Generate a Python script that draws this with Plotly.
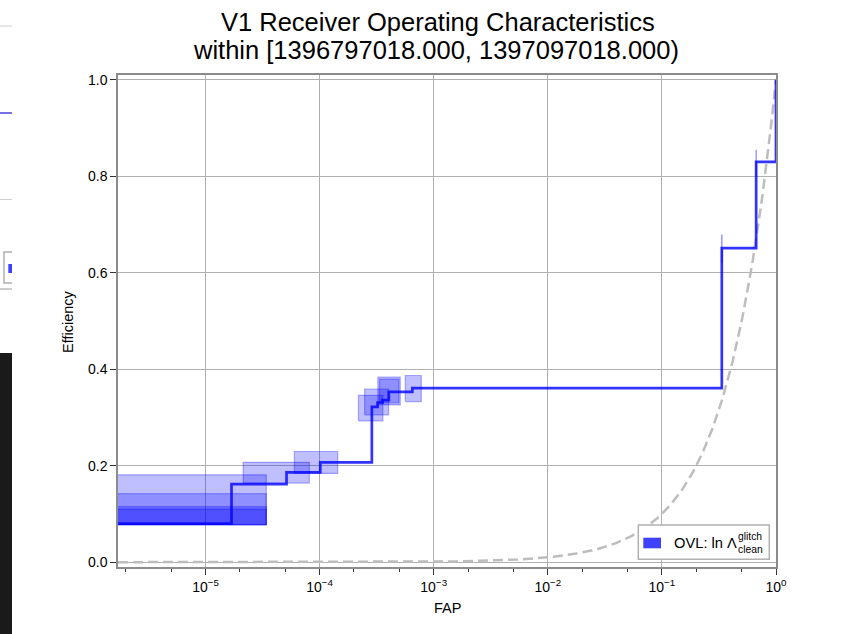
import numpy as np
import plotly.graph_objects as go

# ROC step curve (false alarm probability vs. efficiency)
roc_fap = [1.0e-6, 1.69e-5, 5.13e-5, 1.014e-4, 2.87e-4, 3.22e-4, 3.56e-4, 4.04e-4, 6.5e-4, 0.335, 0.670, 1.0]
roc_eff = [0.080, 0.162, 0.186, 0.207, 0.322, 0.331, 0.336, 0.353, 0.361, 0.651, 0.830, 1.0]

# Uncertainty boxes around ROC points
box_fap_lo = [1.0e-6, 1.0e-6, 1.0e-6, 1.0e-6, 2.14e-5, 6.01e-5, 2.19e-4, 2.48e-4, 3.24e-4, 3.35e-4, 5.64e-4, 0.333, 0.667]
box_fap_hi = [3.41e-5, 3.41e-5, 3.41e-5, 3.41e-5, 8.13e-5, 1.44e-4, 3.58e-4, 4.02e-4, 5.09e-4, 4.95e-4, 7.78e-4, 0.337, 0.673]
box_eff_lo = [0.078, 0.078, 0.078, 0.078, 0.164, 0.184, 0.293, 0.3055, 0.326, 0.330, 0.333, 0.620, 0.800]
box_eff_hi = [0.181, 0.142, 0.115, 0.110, 0.207, 0.2295, 0.346, 0.359, 0.3836, 0.3795, 0.387, 0.678, 0.854]

# Axis ticks
x_tickvals = [1e-5, 1e-4, 1e-3, 1e-2, 1e-1, 1e0]
x_ticktext = ["10<sup>\u22125</sup>", "10<sup>\u22124</sup>", "10<sup>\u22123</sup>",
              "10<sup>\u22122</sup>", "10<sup>\u22121</sup>", "10<sup>0</sup>"]
y_tickvals = [0.0, 0.2, 0.4, 0.6, 0.8, 1.0]

title_line1 = "V1 Receiver Operating Characteristics"
title_line2 = "within [1396797018.000, 1397097018.000)"
legend_main = "OVL: ln \u039b"
legend_sup = "glitch"
legend_sub = "clean"

FONT = "Liberation Sans, Arial, Helvetica, sans-serif"
BLUE_LINE = "rgba(0,0,255,0.8)"
BOX_FILL = "rgba(0,0,255,0.25)"
BOX_EDGE = "rgba(0,0,255,0.3)"

X_MIN, X_MAX = 1.71e-6, 1.0

fig = go.Figure()

# chance line: efficiency equal to FAP
chance_fap = np.logspace(np.log10(X_MIN), np.log10(X_MAX), 400)
chance_eff = chance_fap
fig.add_trace(go.Scatter(x=chance_fap, y=chance_eff, mode="lines",
                         line=dict(color="#bdbdbd", width=2.5, dash="10px,5px"),
                         hoverinfo="skip", showlegend=False))

for flo, fhi, elo, ehi in zip(box_fap_lo, box_fap_hi, box_eff_lo, box_eff_hi):
    fig.add_trace(go.Scatter(x=[flo, fhi, fhi, flo, flo], y=[elo, elo, ehi, ehi, elo],
                             mode="lines", fill="toself", fillcolor=BOX_FILL,
                             line=dict(color=BOX_EDGE, width=1.2),
                             hoverinfo="skip", showlegend=False))

fig.add_trace(go.Scatter(x=roc_fap, y=roc_eff, mode="lines", line_shape="hv",
                         line=dict(color=BLUE_LINE, width=2.7), showlegend=False))

# plot area in pixels
L, R, T, B = 118, 776, 75, 567
W, H = 853, 634


def px(p):
    return (p - L) / (R - L)


def py(p):
    return (B - p) / (B - T)


shapes = []
# legend frame and patch
shapes.append(dict(type="rect", xref="paper", yref="paper",
                   x0=px(638.3), x1=px(769.3), y0=py(559.3), y1=py(525),
                   line=dict(color="#b0b0b0", width=1.5), fillcolor="white", layer="above"))
shapes.append(dict(type="rect", xref="paper", yref="paper",
                   x0=px(643.3), x1=px(661), y0=py(548.3), y1=py(537.7),
                   line=dict(width=0), fillcolor="#4040ff", layer="above"))

# neighbouring panel fragment along the left edge
edge_x0, edge_x1 = px(0), px(12)
shapes += [
    dict(type="line", xref="paper", yref="paper", x0=edge_x0, x1=edge_x1, y0=py(26), y1=py(26),
         line=dict(color="#cfcfcf", width=1)),
    dict(type="line", xref="paper", yref="paper", x0=edge_x0, x1=edge_x1, y0=py(113), y1=py(113),
         line=dict(color="#7373e6", width=2)),
    dict(type="line", xref="paper", yref="paper", x0=edge_x0, x1=edge_x1, y0=py(199.5), y1=py(199.5),
         line=dict(color="#cfcfcf", width=1)),
    dict(type="path", xref="paper", yref="paper",
         path=f"M {edge_x1},{py(252)} L {px(4)},{py(252)} L {px(4)},{py(283)} L {edge_x1},{py(283)}",
         line=dict(color="#b0b0b0", width=1.5)),
    dict(type="rect", xref="paper", yref="paper", x0=px(8.3), x1=edge_x1, y0=py(273), y1=py(264),
         line=dict(width=0), fillcolor="#4040ff"),
    dict(type="line", xref="paper", yref="paper", x0=edge_x0, x1=edge_x1, y0=py(289), y1=py(289),
         line=dict(color="#9a9a9a", width=1)),
    dict(type="rect", xref="paper", yref="paper", x0=edge_x0, x1=edge_x1, y0=py(634), y1=py(353),
         line=dict(width=0), fillcolor="#1a1a1a"),
]

annotations = [
    dict(text=title_line1, xref="paper", yref="paper", x=px(438), y=py(22), xanchor="center",
         yanchor="middle", showarrow=False, font=dict(family=FONT, size=25.5, color="black")),
    dict(text=title_line2, xref="paper", yref="paper", x=px(436), y=py(50), xanchor="center",
         yanchor="middle", showarrow=False, font=dict(family=FONT, size=25.5, color="black")),
    dict(text="Efficiency", xref="paper", yref="paper", x=px(68), y=py(322), textangle=-90,
         xanchor="center", yanchor="middle", showarrow=False,
         font=dict(family=FONT, size=14.5, color="black")),
    dict(text="FAP", xref="paper", yref="paper", x=0.5, y=py(608), xanchor="center",
         yanchor="middle", showarrow=False, font=dict(family=FONT, size=14.5, color="black")),
    dict(text=legend_main, xref="paper", yref="paper", x=px(671.7), y=py(543.3), xanchor="left",
         yanchor="middle", showarrow=False, font=dict(family=FONT, size=14.7, color="black")),
    dict(text=legend_sup, xref="paper", yref="paper", x=px(735.7), y=py(536.7), xanchor="left",
         yanchor="middle", showarrow=False, font=dict(family=FONT, size=10.3, color="black")),
    dict(text=legend_sub, xref="paper", yref="paper", x=px(735.7), y=py(549.3), xanchor="left",
         yanchor="middle", showarrow=False, font=dict(family=FONT, size=10.3, color="black")),
]

fig.update_layout(
    width=W, height=H,
    margin=dict(l=L, r=W - R, t=T, b=H - B, pad=0),
    paper_bgcolor="white", plot_bgcolor="white",
    showlegend=False,
    font=dict(family=FONT, size=14, color="black"),
    shapes=shapes, annotations=annotations,
)

fig.update_xaxes(
    type="log", range=[np.log10(X_MIN), np.log10(X_MAX)],
    tickvals=x_tickvals, ticktext=x_ticktext,
    ticks="outside", ticklen=6, tickwidth=1.2, tickcolor="#333333",
    minor=dict(ticks="outside", ticklen=3.5, tickwidth=1, tickcolor="#333333", showgrid=False),
    showgrid=True, gridcolor="#b0b0b0", gridwidth=1,
    showline=True, linecolor="#8c8c8c", linewidth=1.5, mirror=True,
    zeroline=False, tickfont=dict(family=FONT, size=14, color="black"),
)
fig.update_yaxes(
    range=[-0.01, 1.01], tickvals=y_tickvals, tickformat=".1f",
    ticks="outside", ticklen=6, tickwidth=1.2, tickcolor="#333333",
    showgrid=True, gridcolor="#b0b0b0", gridwidth=1,
    showline=True, linecolor="#8c8c8c", linewidth=1.5, mirror=True,
    zeroline=False, tickfont=dict(family=FONT, size=14, color="black"),
)

fig.write_html("out.html")
